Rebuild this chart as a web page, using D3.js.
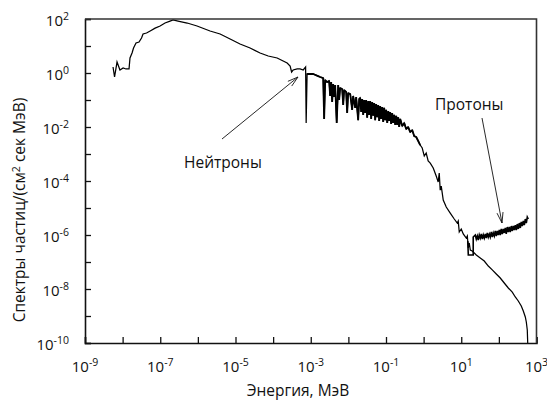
<!DOCTYPE html>
<html>
<head>
<meta charset="utf-8">
<script src="https://cdn.jsdelivr.net/npm/d3@7"></script>
<style>
  html, body { margin: 0; padding: 0; background: #fff; }
  svg text { font-family: "Open Sans", "Noto Sans", sans-serif; fill: #111; }
</style>
</head>
<body>
<svg id="chart" width="547" height="401"></svg>
<script>
// Neutron spectrum, thermal and epithermal part (E in MeV, flux per cm² s MeV)
const thermalEnergy = [5.56e-9, 6.1e-9, 7.1e-9, 8.5e-9, 1.03e-8, 1.23e-8, 1.48e-8, 1.57e-8, 1.78e-8, 1.95e-8,
  2.27e-8, 2.73e-8, 3.18e-8, 3.49e-8, 4.32e-8, 5.4e-8, 7.3e-8, 9.9e-8, 1.34e-7, 1.82e-7,
  2.19e-7, 2.97e-7, 5.2e-7, 9.5e-7, 2.11e-6, 3.9e-6, 7.2e-6, 1.32e-5, 2.44e-5, 4.5e-5,
  7.4e-5, 1.28e-4, 1.85e-4, 2.36e-4, 2.83e-4, 3.1e-4, 3.4e-4, 4.35e-4, 5.2e-4, 6.3e-4,
  7.3e-4, 7.55e-4];
const thermalFlux = [1.67, 0.71, 2.55, 1.29, 1.53, 1.41, 1.41, 3.6, 5.5, 8.4,
  12.9, 14.1, 19.8, 27.8, 30.3, 36, 46, 55, 71, 84,
  91.8, 84, 71, 55, 36, 27.8, 18.2, 11.9, 8.4, 5.5,
  4.26, 3.6, 2.78, 2.35, 1.82, 1.09, 1.29, 1.41, 1.41, 1.29,
  1.67, 0.0141];

// Resonance region with absorption dips
const resonanceEnergy = [8.0e-4, 9.6e-4, 1.16e-3, 1.57e-3, 1.78e-3, 2.14e-3, 2.27e-3, 2.42e-3, 2.73e-3, 3.08e-3,
  3.28e-3, 3.49e-3, 3.71e-3, 3.94e-3, 4.19e-3, 4.46e-3, 4.89e-3, 5.36e-3, 5.69e-3, 6.05e-3,
  6.84e-3, 7.28e-3, 7.73e-3, 8.73e-3, 9.29e-3, 9.88e-3, 1.12e-2, 1.26e-2, 1.34e-2, 1.52e-2,
  1.61e-2, 1.82e-2, 1.94e-2,
  0.0206, 0.0219, 0.0233, 0.0248, 0.0263, 0.0280, 0.0297, 0.0316, 0.0337, 0.0357,
  0.0380, 0.0404, 0.0430, 0.0457, 0.0485, 0.0516, 0.0548, 0.0583, 0.0621, 0.0659,
  0.0701, 0.0745, 0.0793, 0.0843, 0.0895, 0.0953, 0.101, 0.108, 0.115, 0.122,
  0.129, 0.137, 0.146, 0.155, 0.165, 0.176, 0.187, 0.199, 0.211, 0.224,
  0.239, 0.270, 0.305, 0.344, 0.389, 0.440, 0.498, 0.562, 0.635, 0.718, 0.81];
const resonanceFlux = [0.92, 0.92, 0.92, 0.77, 0.71, 0.65, 0.020, 0.55, 0.46, 0.51,
  0.141, 0.46, 0.084, 0.39, 0.129, 0.36, 0.0141, 0.36, 0.100, 0.28,
  0.255, 0.065, 0.234, 0.198, 0.033, 0.18, 0.167, 0.043, 0.141, 0.051,
  0.129, 0.018, 0.109,
  0.119, 0.036, 0.109, 0.028, 0.100, 0.033, 0.100, 0.022, 0.092, 0.028,
  0.092, 0.020, 0.084, 0.026, 0.077, 0.018, 0.071, 0.023, 0.065, 0.0167,
  0.060, 0.020, 0.055, 0.0153, 0.051, 0.018, 0.043, 0.0141, 0.039, 0.0167,
  0.036, 0.0129, 0.033, 0.0141, 0.028, 0.0119, 0.026, 0.0119, 0.023, 0.0100,
  0.020, 0.0109, 0.0141, 0.0084, 0.0100, 0.0065, 0.0077, 0.0046, 0.00427, 0.00303, 0.00215];

// Fast neutrons down to the cut-off
const fastEnergy = [0.918, 1.04, 1.17, 1.32, 1.50, 1.80, 2.16, 2.44, 2.60, 2.76,
  2.94, 3.32, 3.99, 5.10, 6.52, 7.83, 8.31, 8.85, 10.0, 11.3,
  13.6, 14.5, 15.4, 16.3, 17.4, 19.6, 25.1, 32.0, 40.9, 52.3,
  66.7, 85.3, 108.9, 139, 178, 227, 273, 328, 394, 446,
  504, 536, 569, 587];
const fastFlux = [1.67e-3, 8.4e-4, 1.09e-3, 5.5e-4, 4.6e-4, 3.03e-4, 1.53e-4, 9.2e-5, 1.98e-4, 4.6e-5,
  6.5e-5, 1.98e-5, 1.09e-5, 6.5e-6, 3.91e-6, 2.78e-6, 3.30e-6, 1.29e-6, 1.67e-6, 1.09e-6,
  7.7e-7, 9.2e-7, 3.30e-7, 5.06e-7, 2.78e-7, 2.55e-7, 1.82e-7, 1.41e-7, 1.09e-7, 7.1e-8,
  5.1e-8, 3.6e-8, 2.55e-8, 1.67e-8, 1.09e-8, 7.7e-9, 5.06e-9, 3.6e-9, 2.34e-9, 1.53e-9,
  9.2e-10, 6.0e-10, 3.03e-10, 8e-11];

// Proton spectrum
const protonEnergy = [14.9, 15.4, 20.8, 20.8,
  23.6, 25.1, 26.7, 28.3, 30.1, 32.0, 34.0, 36.2, 38.5, 40.9,
  43.5, 46.2, 49.1, 52.3, 55.6, 59.0, 62.8, 66.7, 70.9, 75.5,
  80.2, 85.3, 90.6, 96.4, 102.5, 108.9, 115.8, 123.1, 131, 139,
  148, 157, 167, 178, 189, 201, 214, 227, 242, 257,
  273, 290, 308, 328, 349, 371, 394, 419, 446, 474,
  504, 536, 569, 605];
const protonFlux = [6.0e-7, 1.82e-7, 1.82e-7, 8.4e-7,
  1.00e-6, 7.1e-7, 9.2e-7, 6.5e-7, 1.00e-6, 7.7e-7, 1.09e-6, 7.1e-7, 1.00e-6, 7.7e-7,
  1.09e-6, 7.7e-7, 1.19e-6, 8.4e-7, 1.09e-6, 8.4e-7, 1.29e-6, 8.4e-7, 1.19e-6, 9.2e-7,
  1.41e-6, 9.2e-7, 1.41e-6, 1.00e-6, 1.53e-6, 1.00e-6, 1.67e-6, 1.09e-6, 1.67e-6, 1.19e-6,
  1.82e-6, 1.09e-6, 1.98e-6, 1.29e-6, 1.98e-6, 1.29e-6, 2.15e-6, 1.41e-6, 2.15e-6, 1.53e-6,
  2.34e-6, 1.53e-6, 2.55e-6, 1.67e-6, 2.78e-6, 1.82e-6, 3.03e-6, 2.15e-6, 3.30e-6, 2.34e-6,
  3.91e-6, 2.78e-6, 4.64e-6, 3.91e-6];

// Axis decades: every decade is ticked, every second one labelled
const xTickExponents = [-9, -8, -7, -6, -5, -4, -3, -2, -1, 0, 1, 2, 3];
const xLabelExponents = [-9, -7, -5, -3, -1, 1, 3];
const yTickExponents = [2, 1, 0, -1, -2, -3, -4, -5, -6, -7, -8, -9, -10];
const yLabelExponents = [2, 0, -2, -4, -6, -8, -10];

const xTitle = "Энергия, МэВ";
const yTitle = ["Спектры частиц/(см", "2", " сек МэВ)"];
const neutronLabel = "Нейтроны";
const protonLabel = "Протоны";

const svg = d3.select("#chart");
const margin = { left: 85, right: 10.5, top: 19, bottom: 58 };
const W = 547, H = 401;
const x = d3.scaleLog().domain([1e-9, 1e3]).range([margin.left, W - margin.right]);
const y = d3.scaleLog().domain([1e-10, 1e2]).range([H - margin.bottom, margin.top]);

svg.append("defs").append("clipPath").attr("id", "plot-clip")
  .append("rect")
  .attr("x", x(1e-9)).attr("y", y(1e2))
  .attr("width", x(1e3) - x(1e-9)).attr("height", y(1e-10) - y(1e2));

const zip = (es, fs) => es.map((e, i) => [e, fs[i]]);
const resonance = zip(resonanceEnergy, resonanceFlux);
const neutron = zip(thermalEnergy, thermalFlux)
  .concat(resonance)
  .concat(zip(fastEnergy, fastFlux));
const proton = zip(protonEnergy, protonFlux);

const line = d3.line().x(d => x(d[0])).y(d => y(d[1]));

const g = svg.append("g").attr("clip-path", "url(#plot-clip)");
g.append("path").datum(neutron).attr("d", line)
  .attr("fill", "none").attr("stroke", "#000").attr("stroke-width", 1.25)
  .attr("stroke-linejoin", "miter");
// resonance lines are densely packed: heavier stroke
g.append("path").datum(resonance).attr("d", line)
  .attr("fill", "none").attr("stroke", "#000").attr("stroke-width", 1.8)
  .attr("stroke-linejoin", "bevel");
g.append("path").datum(proton).attr("d", line)
  .attr("fill", "none").attr("stroke", "#000").attr("stroke-width", 1.6);

// Axes with inward ticks
const xAxis = d3.axisBottom(x).tickValues(xTickExponents.map(p => Math.pow(10, p)))
  .tickSize(-6).tickFormat("");
const yAxis = d3.axisLeft(y).tickValues(yTickExponents.map(p => Math.pow(10, p)))
  .tickSize(-6).tickFormat("");
const gx = svg.append("g").attr("transform", `translate(0,${y(1e-10)})`).call(xAxis);
const gy = svg.append("g").attr("transform", `translate(${x(1e-9)},0)`).call(yAxis);
[gx, gy].forEach(a => {
  a.select(".domain").attr("stroke", "#111").attr("stroke-width", 1.6);
  a.selectAll(".tick line").attr("stroke", "#111").attr("stroke-width", 1.3);
});

// Frame: top and right edges
svg.append("path")
  .attr("d", `M${x(1e-9)},${y(1e2)}H${x(1e3)}V${y(1e-10)}`)
  .attr("fill", "none").attr("stroke", "#333").attr("stroke-width", 1.6);

// Power-of-ten labels
function powerLabel(sel, exp) {
  sel.append("tspan").text("10");
  sel.append("tspan").attr("dy", -6).attr("font-size", 10.5).text(exp < 0 ? "-" + (-exp) : String(exp));
}
xLabelExponents.forEach(p => {
  const t = svg.append("text")
    .attr("x", x(Math.pow(10, p))).attr("y", 372)
    .attr("text-anchor", "middle").attr("font-size", 15);
  powerLabel(t, p);
});
yLabelExponents.forEach(p => {
  const t = svg.append("text")
    .attr("x", 69).attr("y", y(Math.pow(10, p)) + 7)
    .attr("text-anchor", "end").attr("font-size", 15);
  powerLabel(t, p);
});

// Axis titles
svg.append("text").attr("x", 298).attr("y", 396)
  .attr("text-anchor", "middle").attr("font-size", 15.5).text(xTitle);
const yt = svg.append("text")
  .attr("transform", "translate(25,210) rotate(-90)")
  .attr("text-anchor", "middle").attr("font-size", 15.5);
yt.append("tspan").text(yTitle[0]);
yt.append("tspan").attr("dy", -5).attr("font-size", 10.5).text(yTitle[1]);
yt.append("tspan").attr("dy", 5).text(yTitle[2]);

// Annotations with arrows
function arrow(x1, y1, x2, y2) {
  const a = Math.atan2(y2 - y1, x2 - x1), len = 11, spread = 0.28;
  svg.append("path")
    .attr("d", `M${x1},${y1}L${x2},${y2}` +
      `M${x2 - len * Math.cos(a - spread)},${y2 - len * Math.sin(a - spread)}L${x2},${y2}` +
      `L${x2 - len * Math.cos(a + spread)},${y2 - len * Math.sin(a + spread)}`)
    .attr("fill", "none").attr("stroke", "#111").attr("stroke-width", 0.9);
}
svg.append("text").attr("x", 184).attr("y", 168).attr("font-size", 15.5).text(neutronLabel);
arrow(222, 139, 298, 77);
svg.append("text").attr("x", 435).attr("y", 110).attr("font-size", 15.5).text(protonLabel);
arrow(482, 118, 502, 223);
</script>
</body>
</html>
